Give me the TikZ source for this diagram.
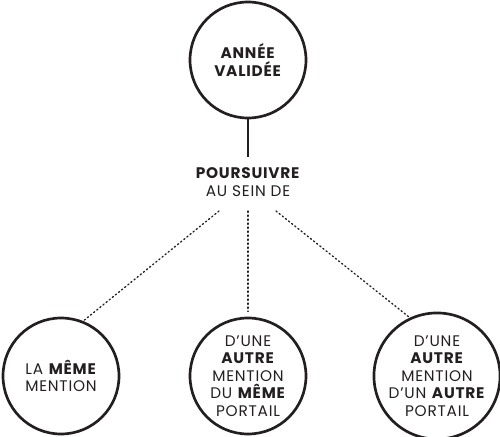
\documentclass[tikz,border=0pt]{standalone}
\usepackage{fontspec}
\setmainfont{Poppins}[LetterSpace=5]
\usetikzlibrary{positioning}
\definecolor{ink}{HTML}{231F20}

\tikzset{every picture/.style={line width=0.75pt}}
\tikzset{
  bubble/.style={draw=ink, line width=2pt, circle, minimum size=87pt, inner sep=0pt, align=center, text=ink, font=\fontsize{11.5}{13.2}\selectfont},
  label/.style={align=center, text=ink, inner sep=0.75pt, font=\fontsize{11.5}{13.2}\selectfont},
  dots/.style={draw=ink, line width=1pt, dash pattern=on 1pt off 2pt, line cap=round}
}

\begin{document}
\begin{tikzpicture}[x=0.75pt,y=0.75pt,yscale=-1,xscale=1]
\useasboundingbox (0,0) rectangle (500,436);

%Circle: top
\node [bubble] (annee) at (248,60) {\textbf{ANNÉE}\\\textbf{VALIDÉE}};
% Text Node
\node [label] (poursuivre) at (248,182) {\textbf{POURSUIVRE}\\AU SEIN DE};

%Circles: bottom row
\node [bubble] (meme) at (61,376) {LA \textbf{MÊME}\\MENTION};
\node [bubble] (portail) at (248,376) {D'UNE\\\textbf{AUTRE}\\MENTION\\DU \textbf{MÊME}\\PORTAIL};
\node [bubble] (autre) at (437,376) {D'UNE\\\textbf{AUTRE}\\MENTION\\D'UN \textbf{AUTRE}\\PORTAIL};

%Straight Lines
\coordinate (split) at (248,157);
\draw [draw=ink, line width=2pt] (annee) -- (split);

%Dotted Lines
\coordinate (fromleft) at (219,211);
\coordinate (frommid) at (248,211);
\coordinate (fromright) at (276,211);
\draw [dots] (fromleft) -- (meme.68);
\draw [dots, shorten >=4pt] (frommid) -- (portail.north);
\draw [dots] (fromright) -- (autre.115);

\end{tikzpicture}
\end{document}
